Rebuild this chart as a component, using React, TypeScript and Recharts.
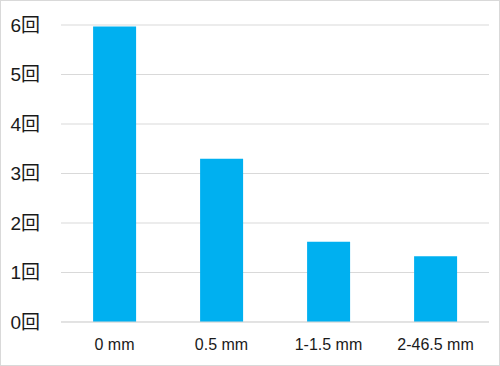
import React from 'react';
import { BarChart, Bar, XAxis, YAxis, CartesianGrid } from 'recharts';

const categories = ['0 mm', '0.5 mm', '1-1.5 mm', '2-46.5 mm'];
const counts = [5.97, 3.3, 1.62, 1.33];
const yTicks = [0, 1, 2, 3, 4, 5, 6];

const data = categories.map((c, i) => ({ name: c, value: counts[i] }));

const font = '"Liberation Sans", "Noto Sans CJK JP", sans-serif';

export default function App() {
  return (
    <div
      style={{
        position: 'absolute',
        left: 0,
        top: 0,
        width: 500,
        height: 366,
        border: '1px solid #d9d9d9',
        boxSizing: 'border-box',
        background: '#fff',
      }}
    >
      <div style={{ position: 'absolute', left: -1, top: -1 }}>
        <BarChart
          width={500}
          height={366}
          data={data}
          margin={{ top: 25, right: 11, bottom: 0, left: 0 }}
          barCategoryGap="30%"
        >
          <CartesianGrid vertical={false} stroke="#d9d9d9" />
          <XAxis
            dataKey="name"
            height={44}
            axisLine={{ stroke: '#d9d9d9' }}
            tickLine={false}
            tickSize={0}
            tickMargin={17}
            tick={{ fill: '#1a1a1a', fontSize: 16, fontFamily: font }}
          />
          <YAxis
            width={61}
            domain={[0, 6]}
            ticks={yTicks}
            axisLine={false}
            tickLine={false}
            tickSize={0}
            tickMargin={21}
            tickFormatter={(v) => `${v}回`}
            tick={{ fill: '#1a1a1a', fontSize: 19, fontFamily: font }}
          />
          <Bar dataKey="value" fill="#00b0f0" isAnimationActive={false} />
        </BarChart>
      </div>
    </div>
  );
}
